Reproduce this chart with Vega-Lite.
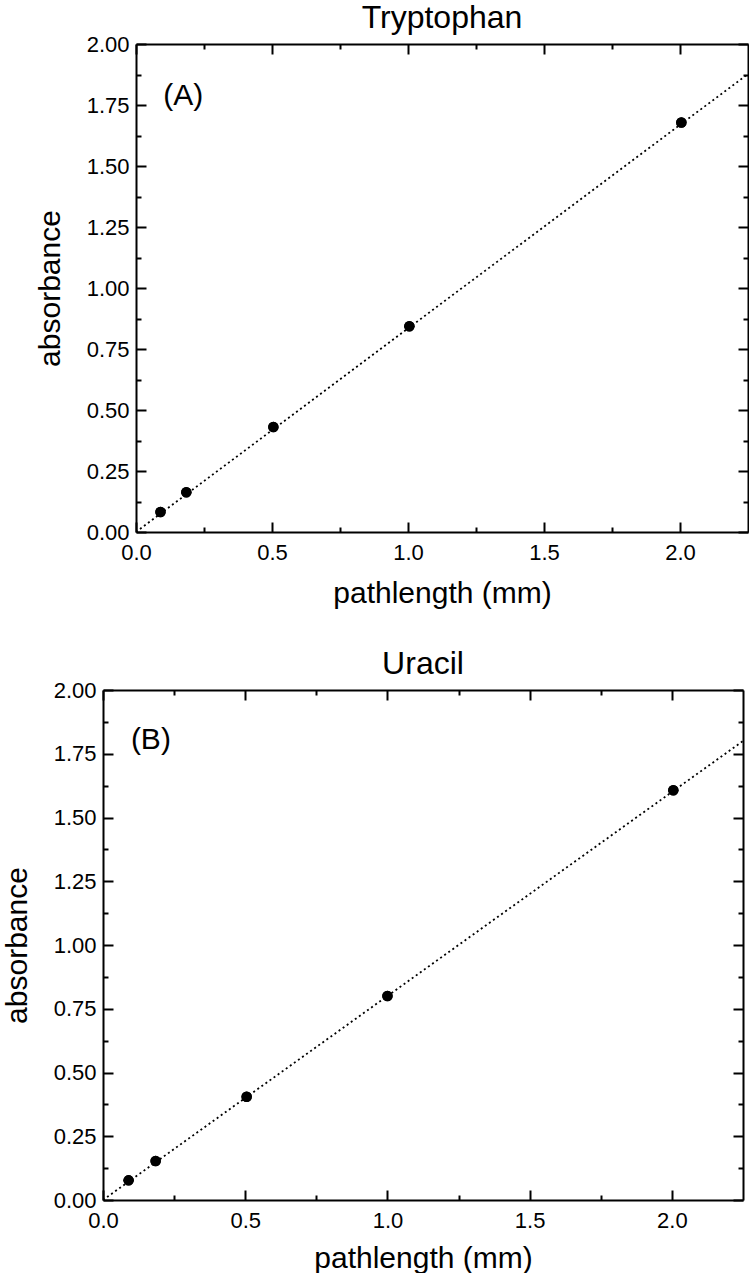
{
  "$schema": "https://vega.github.io/schema/vega-lite/v6.json",
  "background": "white",
  "padding": {"left": 2, "top": 2, "right": 0, "bottom": 0},
  "datasets": {
    "ptsA": [
      {"x": 0.09, "y": 0.082},
      {"x": 0.185, "y": 0.163},
      {"x": 0.505, "y": 0.43},
      {"x": 1.005, "y": 0.843},
      {"x": 2.005, "y": 1.678}
    ],
    "fitA": [
      {"x": 0, "y": 0},
      {"x": 2.25, "y": 1.877}
    ],
    "labA": [{"x": 0.1, "y": 1.75, "t": "(A)"}],
    "ptsB": [
      {"x": 0.09, "y": 0.077},
      {"x": 0.185, "y": 0.153},
      {"x": 0.505, "y": 0.405},
      {"x": 1.0, "y": 0.8},
      {"x": 2.005, "y": 1.607}
    ],
    "fitB": [
      {"x": 0, "y": 0},
      {"x": 2.25, "y": 1.8}
    ],
    "labB": [{"x": 0.098, "y": 1.77, "t": "(B)"}]
  },
  "config": {
    "view": {"stroke": null},
    "axis": {
      "domainColor": "black",
      "domainWidth": 2,
      "tickColor": "black",
      "tickWidth": 2,
      "tickSize": -10,
      "labelFont": "Liberation Sans",
      "labelFontSize": 22,
      "labelColor": "black",
      "titleFont": "Liberation Sans",
      "titleFontSize": 30,
      "titleFontWeight": "normal",
      "titleColor": "black",
      "grid": false,
      "labelFlush": false,
      "labelOverlap": false
    },
    "title": {"font": "Liberation Sans", "fontSize": 32, "fontWeight": "normal", "color": "black", "offset": -2}
  },
  "vconcat": [
    {
      "bounds": "flush",
      "hconcat": [
        {
          "width": 1,
          "height": 1,
          "data": {"values": [{}]},
          "mark": {"type": "point", "opacity": 0},
          "encoding": {}
        },
        {
          "title": "Tryptophan",
          "width": 612,
          "height": 488,
          "layer": [
            {
              "data": {"name": "fitA"},
              "mark": {"type": "line", "color": "black", "strokeWidth": 1.8, "strokeDash": [2, 3], "clip": true},
              "encoding": {
                "x": {"field": "x", "type": "quantitative", "scale": {"domain": [0, 2.25], "nice": false, "zero": false},
                  "axis": {"orient": "bottom", "values": [0, 0.5, 1, 1.5, 2], "format": ".1f", "labelPadding": 20, "title": "pathlength (mm)", "titlePadding": 15}},
                "y": {"field": "y", "type": "quantitative", "scale": {"domain": [0, 2], "nice": false, "zero": false},
                  "axis": {"orient": "left", "values": [0, 0.25, 0.5, 0.75, 1, 1.25, 1.5, 1.75, 2], "format": ".2f", "labelPadding": 17, "title": "absorbance", "titlePadding": 21}}
              }
            },
            {
              "data": {"name": "ptsA"},
              "mark": {"type": "circle", "color": "black", "opacity": 1, "size": 110},
              "encoding": {
                "x": {"field": "x", "type": "quantitative", "scale": {"domain": [0, 2.25], "nice": false, "zero": false},
                  "axis": {"orient": "bottom", "values": [0.25, 0.75, 1.25, 1.75], "tickSize": -5, "labels": false, "domain": false, "title": null}},
                "y": {"field": "y", "type": "quantitative", "scale": {"domain": [0, 2], "nice": false, "zero": false},
                  "axis": {"orient": "left", "values": [0.125, 0.375, 0.625, 0.875, 1.125, 1.375, 1.625, 1.875], "tickSize": -5, "labels": false, "domain": false, "title": null}}
              }
            },
            {
              "data": {"name": "labA"},
              "mark": {"type": "text", "font": "Liberation Sans", "fontSize": 30, "color": "black", "align": "left", "baseline": "alphabetic"},
              "encoding": {
                "x": {"field": "x", "type": "quantitative", "scale": {"domain": [0, 2.25], "nice": false, "zero": false},
                  "axis": {"orient": "top", "values": [0, 0.5, 1, 1.5, 2], "labels": false, "title": null}},
                "y": {"field": "y", "type": "quantitative", "scale": {"domain": [0, 2], "nice": false, "zero": false},
                  "axis": {"orient": "right", "values": [0, 0.25, 0.5, 0.75, 1, 1.25, 1.5, 1.75, 2], "labels": false, "title": null}},
                "text": {"field": "t"}
              }
            },
            {
              "data": {"name": "ptsA"},
              "mark": {"type": "circle", "color": "black", "opacity": 1, "size": 110},
              "encoding": {
                "x": {"field": "x", "type": "quantitative", "scale": {"domain": [0, 2.25], "nice": false, "zero": false},
                  "axis": {"orient": "top", "values": [0.25, 0.75, 1.25, 1.75], "tickSize": -5, "labels": false, "domain": false, "title": null}},
                "y": {"field": "y", "type": "quantitative", "scale": {"domain": [0, 2], "nice": false, "zero": false},
                  "axis": {"orient": "right", "values": [0.125, 0.375, 0.625, 0.875, 1.125, 1.375, 1.625, 1.875], "tickSize": -5, "labels": false, "domain": false, "title": null}}
              }
            }
          ],
          "resolve": {"axis": {"x": "independent", "y": "independent"}}
        }
      ],
      "spacing": 32
    },
    {
      "title": "Uracil",
      "width": 640,
      "height": 510,
      "layer": [
        {
          "data": {"name": "fitB"},
          "mark": {"type": "line", "color": "black", "strokeWidth": 1.8, "strokeDash": [2, 3], "clip": true},
          "encoding": {
            "x": {"field": "x", "type": "quantitative", "scale": {"domain": [0, 2.25], "nice": false, "zero": false},
              "axis": {"orient": "bottom", "values": [0, 0.5, 1, 1.5, 2], "format": ".1f", "labelPadding": 20, "title": "pathlength (mm)", "titlePadding": 12}},
            "y": {"field": "y", "type": "quantitative", "scale": {"domain": [0, 2], "nice": false, "zero": false},
              "axis": {"orient": "left", "values": [0, 0.25, 0.5, 0.75, 1, 1.25, 1.5, 1.75, 2], "format": ".2f", "labelPadding": 17, "title": "absorbance", "titlePadding": 21}}
          }
        },
        {
          "data": {"name": "ptsB"},
          "mark": {"type": "circle", "color": "black", "opacity": 1, "size": 110},
          "encoding": {
            "x": {"field": "x", "type": "quantitative", "scale": {"domain": [0, 2.25], "nice": false, "zero": false},
              "axis": {"orient": "bottom", "values": [0.25, 0.75, 1.25, 1.75], "tickSize": -5, "labels": false, "domain": false, "title": null}},
            "y": {"field": "y", "type": "quantitative", "scale": {"domain": [0, 2], "nice": false, "zero": false},
              "axis": {"orient": "left", "values": [0.125, 0.375, 0.625, 0.875, 1.125, 1.375, 1.625, 1.875], "tickSize": -5, "labels": false, "domain": false, "title": null}}
          }
        },
        {
          "data": {"name": "labB"},
          "mark": {"type": "text", "font": "Liberation Sans", "fontSize": 30, "color": "black", "align": "left", "baseline": "alphabetic"},
          "encoding": {
            "x": {"field": "x", "type": "quantitative", "scale": {"domain": [0, 2.25], "nice": false, "zero": false},
              "axis": {"orient": "top", "values": [0, 0.5, 1, 1.5, 2], "labels": false, "title": null}},
            "y": {"field": "y", "type": "quantitative", "scale": {"domain": [0, 2], "nice": false, "zero": false},
              "axis": {"orient": "right", "values": [0, 0.25, 0.5, 0.75, 1, 1.25, 1.5, 1.75, 2], "labels": false, "title": null}},
            "text": {"field": "t"}
          }
        },
        {
          "data": {"name": "ptsB"},
          "mark": {"type": "circle", "color": "black", "opacity": 1, "size": 110},
          "encoding": {
            "x": {"field": "x", "type": "quantitative", "scale": {"domain": [0, 2.25], "nice": false, "zero": false},
              "axis": {"orient": "top", "values": [0.25, 0.75, 1.25, 1.75], "tickSize": -5, "labels": false, "domain": false, "title": null}},
            "y": {"field": "y", "type": "quantitative", "scale": {"domain": [0, 2], "nice": false, "zero": false},
              "axis": {"orient": "right", "values": [0.125, 0.375, 0.625, 0.875, 1.125, 1.375, 1.625, 1.875], "tickSize": -5, "labels": false, "domain": false, "title": null}}
          }
        }
      ],
      "resolve": {"axis": {"x": "independent", "y": "independent"}}
    }
  ],
  "spacing": 40
}
